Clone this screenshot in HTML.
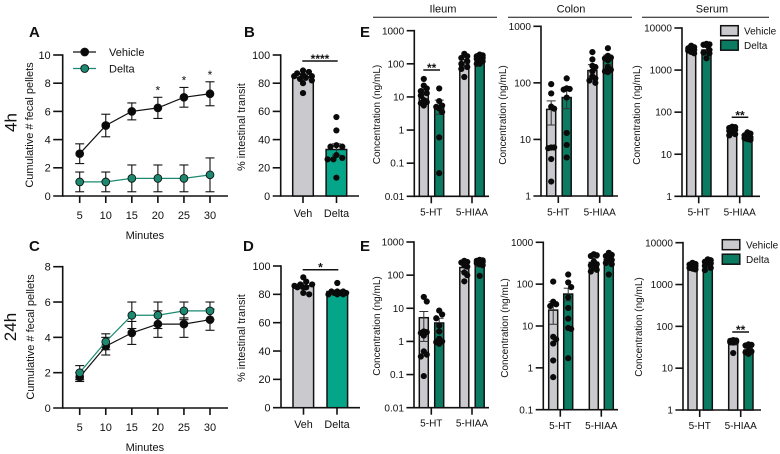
<!DOCTYPE html>
<html>
<head>
<meta charset="utf-8">
<title>Vehicle vs Delta figure</title>
<style>
html,body{margin:0;padding:0;background:#fff;}
svg{display:block;font-family:"Liberation Sans",Arial,sans-serif;fill:#111;}
</style>
</head>
<body>
<svg id="fig" width="780" height="454" viewBox="0 0 780 454" xmlns="http://www.w3.org/2000/svg">
<rect width="780" height="454" fill="#fff"/>
</svg>
<script>
/* ---------- line chart data ---------- */
const minuteCategories = [5, 10, 15, 20, 25, 30];
const panelAYTicks = [0, 2, 4, 6, 8, 10];
const panelCYTicks = [0, 2, 4, 6, 8];
const panelAVehicle = [3, 5, 6, 6.25, 7, 7.25];
const panelAVehicleLow = [2.3, 4.2, 5.4, 5.5, 6.3, 6.4];
const panelAVehicleHigh = [3.7, 5.8, 6.6, 7, 7.7, 8.1];
const panelADelta = [1, 1, 1.25, 1.25, 1.25, 1.5];
const panelADeltaLow = [0.3, 0.3, 0.3, 0.3, 0.3, 0.3];
const panelADeltaHigh = [1.7, 1.7, 2.2, 2.2, 2.2, 2.7];
const panelAStars = ['', '', '', '*', '*', '*'];
const panelCVehicle = [1.75, 3.5, 4.25, 4.75, 4.75, 5];
const panelCVehicleLow = [1.5, 3, 3.6, 4, 4, 4.4];
const panelCVehicleHigh = [2, 4, 4.9, 5.5, 5.1, 5.6];
const panelCDelta = [2, 3.75, 5.25, 5.25, 5.5, 5.5];
const panelCDeltaLow = [1.6, 3.3, 4.5, 4.5, 5, 5];
const panelCDeltaHigh = [2.4, 4.2, 6, 6, 6, 6];

/* ---------- transit data ---------- */
const transitCategories = ['Veh', 'Delta'];
const transitYTicks = [0, 20, 40, 60, 80, 100];
const panelBMeans = [84, 33];
const panelBLow = [82, 29];
const panelBHigh = [86, 37];
const panelBDots = [[89, 88, 87, 86, 85, 85, 84, 83, 82, 80, 73], [56, 46.5, 36, 35, 35, 29, 27, 26, 26, 13]];
const panelDMeans = [86, 82];
const panelDLow = [84, 81];
const panelDHigh = [88, 83];
const panelDDots = [[92, 89, 87, 87, 86, 85, 85, 85, 81, 80], [88, 82, 82, 82, 81, 81, 81, 80, 80, 80]];

/* ---------- concentration data: order Veh 5-HT, Delta 5-HT, Veh 5-HIAA, Delta 5-HIAA ---------- */
const analyteCategories = ['5-HT', '5-HIAA'];
const ileumYTicks = ['0.01', '0.1', '1', '10', '100', '1000'];
const colonTopYTicks = ['1', '10', '100', '1000'];
const colonBottomYTicks = ['0.1', '1', '10', '100', '1000'];
const serumYTicks = ['1', '10', '100', '1000', '10000'];

const ileumTopMeans = [13, 5.5, 110, 150];
const ileumTopLow = [9, 3, 85, 130];
const ileumTopHigh = [17, 8, 135, 170];
const ileumTopDots = [[35, 22, 18, 15, 13, 11, 8, 7, 6.5, 5.5], [18, 7.5, 5.5, 5, 4.5, 3.5, 0.6, 0.05], [200, 170, 150, 120, 100, 80, 70, 40], [190, 180, 170, 160, 150, 140, 130, 120, 100, 100]];

const colonTopMeans = [34, 55, 165, 260];
const colonTopLow = [18, 35, 130, 210];
const colonTopHigh = [48, 80, 210, 310];
const colonTopDots = [[95, 65, 38, 35, 7.2, 7.2, 7, 4.5, 1.8], [120, 80, 78, 76, 55, 13, 8, 4.8], [350, 260, 200, 190, 160, 130, 120, 110, 100], [410, 300, 280, 270, 250, 190, 170, 160, 155]];

const serumTopMeans = [3000, 3000, 37, 25];
const serumTopLow = [2800, 2600, 34, 23];
const serumTopHigh = [3300, 3500, 40, 27];
const serumTopDots = [[3800, 3500, 3300, 3200, 3000, 2900, 2700, 2500], [4200, 4100, 4000, 3900, 3000, 2600, 2500, 1900], [45, 44, 42, 40, 38, 36, 33, 30, 28], [33, 31, 28, 26, 25, 24, 23, 22]];

const ileumBottomMeans = [5.2, 3.6, 170, 220];
const ileumBottomLow = [1, 2, 130, 180];
const ileumBottomHigh = [8, 5, 210, 260];
const ileumBottomDots = [[22, 16, 2, 1.9, 1.8, 1.5, 0.5, 0.4, 0.35, 0.09], [8.5, 6.5, 5, 3, 2, 1.2, 1, 0.95, 0.85], [270, 250, 240, 200, 180, 120, 100, 65], [290, 280, 270, 260, 250, 230, 210, 200, 95]];

const colonBottomMeans = [24, 58, 330, 390];
const colonBottomLow = [11, 40, 260, 320];
const colonBottomHigh = [38, 80, 420, 470];
const colonBottomDots = [[115, 38, 33, 30, 5.5, 4.8, 3.8, 1.5, 0.6], [170, 110, 85, 48, 27, 15, 9, 8.5, 1.7], [520, 490, 470, 350, 300, 280, 250, 220, 200], [560, 500, 470, 400, 380, 320, 300, 170]];

const serumBottomMeans = [2700, 3200, 42, 27];
const serumBottomLow = [2500, 2800, 36, 24];
const serumBottomHigh = [2900, 3600, 46, 30];
const serumBottomDots = [[3300, 3100, 3000, 2800, 2700, 2500, 2400, 2300], [4000, 3800, 3500, 3300, 3200, 2800, 2500, 2200], [47, 46, 45, 44, 43, 42, 41, 23], [37, 36, 35, 34, 26, 25, 24, 22]];

/* ---------- drawing ---------- */
const NS = 'http://www.w3.org/2000/svg';
const fig = document.getElementById('fig');
const INK = '#111';
const GRAY = '#c9c9ce';
const GREEN_LINE = '#1b8a70';
const GREEN_DARK = '#0b7c62';
const GREEN_BRIGHT = '#04a589';

function mk(tag, attrs, parent) {
  const el = document.createElementNS(NS, tag);
  for (const k in attrs) el.setAttribute(k, attrs[k]);
  (parent || fig).appendChild(el);
  return el;
}
function label(str, x, y, size, anchor, parent, rotate, weight) {
  const t = mk('text', {x: x, y: y, 'font-size': size, 'text-anchor': anchor || 'middle', 'font-weight': weight || 'normal'}, parent);
  if (rotate) t.setAttribute('transform', 'rotate(-90 ' + x + ' ' + y + ')');
  t.textContent = str;
  
  
  return t;
}
function seg(x1, y1, x2, y2, width, color, parent) {
  const l = mk('line', {x1: x1, y1: y1, x2: x2, y2: y2, stroke: color || INK, 'stroke-width': width || 1.6}, parent);
  
  
  return l;
}
function linearScale(min, max, y0, y1) {
  return v => y0 - (v - min) / (max - min) * (y0 - y1);
}
function logScale(min, max, y0, y1) {
  const a = Math.log10(min), b = Math.log10(max);
  return v => y0 - (Math.log10(v) - a) / (b - a) * (y0 - y1);
}
function yAxis(g, scale, ticks, axisX, top, bottom, right, tickLen, fs) {
  seg(axisX, top - 0.8, axisX, bottom + 0.8, 1.6, INK, g);
  seg(axisX - tickLen, bottom, right, bottom, 1.6, INK, g);
  ticks.forEach(t => {
    const y = scale(Number(t));
    if (y !== bottom) seg(axisX - tickLen, y, axisX, y, 1.6, INK, g);
    label(String(t), axisX - tickLen - 2.5, y + fs * 0.355, fs, 'end', g);
  });
}
function errorBar(g, x, lowY, highY, cap, color, width) {
  seg(x, lowY, x, highY, width, color, g);
  seg(x - cap, lowY, x + cap, lowY, width, color, g);
  seg(x - cap, highY, x + cap, highY, width, color, g);
}

function lineChart(cfg) {
  const g = mk('g', {});
  
  
  const y = linearScale(0, cfg.yMax, cfg.y0, cfg.y1);
  const x = v => cfg.x0 + (v - minuteCategories[0]) / (minuteCategories[5] - minuteCategories[0]) * (cfg.x1 - cfg.x0);
  yAxis(g, y, cfg.yTicks, cfg.axisX, cfg.y1, cfg.y0, cfg.right, 9.5, 11);
  minuteCategories.forEach(c => {
    seg(x(c), cfg.y0, x(c), cfg.y0 + 7, 1.6, INK, g);
    label(String(c), x(c), cfg.labelY, 11, 'middle', g);
  });
  label('Minutes', (cfg.x0 + cfg.x1) / 2, cfg.titleY, 11, 'middle', g);
  label('Cumulative # fecal pellets', cfg.yTitleX, cfg.yTitleY, 11, 'middle', g, true);
  cfg.series.forEach(s => {
    const pts = s.values.map((v, i) => x(minuteCategories[i]) + ',' + y(v)).join(' ');
    s.values.forEach((v, i) => errorBar(g, x(minuteCategories[i]), y(s.low[i]), y(s.high[i]), 4.5, INK, 1.1));
    const line = mk('polyline', {points: pts, fill: 'none', stroke: s.stroke, 'stroke-width': 1.2}, g);
    
    
    s.values.forEach((v, i) => {
      const c = mk('circle', {cx: x(minuteCategories[i]), cy: y(v), r: 3.9, fill: s.fill, stroke: '#111', 'stroke-width': 0.9}, g);
      
      
    });
  });
  if (cfg.stars) cfg.stars.forEach((s, i) => {
    if (s) label(s, x(minuteCategories[i]), y(cfg.series[0].high[i]) - 3, 12, 'middle', g);
  });
}

/* simple beeswarm: places each value at the nearest free horizontal offset */
function swarm(values, yFn, cx, maxOff, r) {
  const placed = [];
  values.slice().sort((a, b) => b - a).forEach(v => {
    const py = yFn(v);
    const step = r * 0.95;
    let best = 0, bestScore = -1;
    for (let i = 0; i * step <= maxOff * 2; i++) {
      const off = (i % 2 ? 1 : -1) * Math.ceil(i / 2) * step;
      if (Math.abs(off) > maxOff) continue;
      let near = Infinity;
      placed.forEach(p => { near = Math.min(near, Math.hypot(p.x - (cx + off), p.y - py)); });
      const ok = near >= r * 1.55;
      if (ok) { best = off; bestScore = Infinity; break; }
      if (near > bestScore) { bestScore = near; best = off; }
    }
    placed.push({x: cx + best, y: py});
  });
  return placed;
}

function barChart(cfg) {
  const g = mk('g', {});
  
  
  const y = cfg.scale;
  const fs = cfg.fontSize;
  yAxis(g, y, cfg.yTicks, cfg.axisX, cfg.y1, cfg.y0, cfg.right, cfg.tickLen, fs);
  label(cfg.yTitle, cfg.yTitleX, cfg.yTitleY, fs, 'middle', g, true);
  cfg.categories.forEach((c, i) => {
    const tx = cfg.tickX[i];
    seg(tx, cfg.y0, tx, cfg.y0 + 7, 1.6, INK, g);
    label(c, tx, cfg.labelY, fs, 'middle', g);
  });
  cfg.means.forEach((m, i) => {
    const left = cfg.barX(i);
    const top = y(m);
    const isFirst = i % 2 === 0;
    const bar = mk('rect', {x: left, y: top, width: cfg.barW, height: cfg.y0 - top, fill: isFirst ? GRAY : cfg.green, stroke: INK, 'stroke-width': 1.5}, g);
    
    
    const cx = left + cfg.barW / 2;
    errorBar(g, cx, y(cfg.low[i]), y(cfg.high[i]), Math.min(cfg.barW / 2, 4.5), '#333', 1);
    swarm(cfg.dots[i], y, cx, cfg.barW / 2 + 1, 3.1).forEach(p => {
      const d = mk('circle', {cx: p.x, cy: p.y, r: 3.1, fill: '#0a0a0a'}, g);
      
      
    });
  });
  if (cfg.sig) {
    seg(cfg.sig.x1, cfg.sig.y, cfg.sig.x2, cfg.sig.y, 1.5, INK, g);
    label(cfg.sig.text, (cfg.sig.x1 + cfg.sig.x2) / 2, cfg.sig.y + 2, 12, 'middle', g, false, 'bold');
  }
}

function groupedX(x0, inner, group) {
  return i => x0 + (i % 2) * inner + Math.floor(i / 2) * group;
}

/* panel letters and row labels */
[['A', 29, 37], ['B', 244, 37], ['E', 360, 37], ['C', 29, 251], ['D', 243, 251], ['E', 360, 251]].forEach(p => {
  label(p[0], p[1], p[2], 15, 'start', fig, false, 'bold');
});
label('4h', 16.5, 122.5, 17, 'middle', fig, true);
label('24h', 16, 327, 17, 'middle', fig, true);

/* section headers */
[['Ileum', 373, 497, 443], ['Colon', 508, 632, 571], ['Serum', 642, 769, 712]].forEach(h => {
  seg(h[1], 17.3, h[2], 17.3, 1, INK);
  label(h[0], h[3], 12.5, 11);
});

/* A */
lineChart({
  name: 'panel-a-chart', yMax: 10, y0: 196, y1: 55, x0: 79.7, x1: 210, axisX: 62.7, right: 228,
  yTicks: panelAYTicks, labelY: 219, titleY: 239, yTitleX: 33, yTitleY: 125, stars: panelAStars,
  series: [
    {name: 'vehicle', values: panelAVehicle, low: panelAVehicleLow, high: panelAVehicleHigh, stroke: '#111', fill: '#0a0a0a'},
    {name: 'delta', values: panelADelta, low: panelADeltaLow, high: panelADeltaHigh, stroke: GREEN_LINE, fill: GREEN_LINE}
  ]
});
/* A legend */
[['Vehicle', 52, '#111', '#0a0a0a'], ['Delta', 68.5, GREEN_LINE, GREEN_LINE]].forEach(e => {
  const lg = mk('g', {});
  
  
  seg(73, e[1], 96, e[1], 1.2, e[2], lg);
  const m = mk('circle', {cx: 84.7, cy: e[1], r: 3.9, fill: e[3], stroke: '#111', 'stroke-width': 0.9}, lg);
  
  
  label(e[0], 109, e[1] + 3.9, 11, 'start', lg);
});

/* C */
lineChart({
  name: 'panel-c-chart', yMax: 8, y0: 408, y1: 266.7, x0: 79.7, x1: 210, axisX: 62.7, right: 228,
  yTicks: panelCYTicks, labelY: 431, titleY: 451, yTitleX: 34, yTitleY: 337,
  series: [
    {name: 'vehicle', values: panelCVehicle, low: panelCVehicleLow, high: panelCVehicleHigh, stroke: '#111', fill: '#0a0a0a'},
    {name: 'delta', values: panelCDelta, low: panelCDeltaLow, high: panelCDeltaHigh, stroke: GREEN_LINE, fill: GREEN_LINE}
  ]
});

/* B */
barChart({
  name: 'panel-b-chart', fontSize: 10.8, scale: linearScale(0, 100, 196, 55), y0: 196, y1: 55, axisX: 280.7, right: 359, tickLen: 8,
  yTicks: transitYTicks, yTitle: '% intestinal transit', yTitleX: 245, yTitleY: 127,
  categories: transitCategories, tickX: [303, 336.5], labelY: 217,
  means: panelBMeans, low: panelBLow, high: panelBHigh, dots: panelBDots,
  barX: groupedX(292.7, 33.4, 0), barW: 20.6, green: GREEN_BRIGHT,
  sig: {x1: 302.3, x2: 337.7, y: 61, text: '****'}
});
/* D */
barChart({
  name: 'panel-d-chart', fontSize: 10.8, scale: linearScale(0, 100, 407.7, 266), y0: 407.7, y1: 266, axisX: 281, right: 360, tickLen: 8,
  yTicks: transitYTicks, yTitle: '% intestinal transit', yTitleX: 245, yTitleY: 338,
  categories: transitCategories, tickX: [303.5, 337], labelY: 428,
  means: panelDMeans, low: panelDLow, high: panelDHigh, dots: panelDDots,
  barX: groupedX(293, 34, 0), barW: 20.6, green: GREEN_BRIGHT,
  sig: {x1: 302.7, x2: 338.3, y: 269.7, text: '*'}
});

/* E rows */
const concTitle = 'Concentration (ng/mL)';
barChart({
  name: 'ileum-4h-chart', fontSize: 10, scale: logScale(0.01, 1000, 196.3, 30.7), y0: 196.3, y1: 30.7, axisX: 414.3, right: 489, tickLen: 7.6,
  yTicks: ileumYTicks, yTitle: concTitle, yTitleX: 380, yTitleY: 114.5,
  categories: analyteCategories, tickX: [431.3, 472], labelY: 215.5,
  means: ileumTopMeans, low: ileumTopLow, high: ileumTopHigh, dots: ileumTopDots,
  barX: groupedX(419.3, 15.4, 40.5), barW: 9, green: GREEN_DARK,
  sig: {x1: 423.3, x2: 440, y: 70, text: '**'}
});
barChart({
  name: 'colon-4h-chart', fontSize: 10, scale: logScale(1, 1000, 196, 26.3), y0: 196, y1: 26.3, axisX: 541, right: 618, tickLen: 7.6,
  yTicks: colonTopYTicks, yTitle: concTitle, yTitleX: 506, yTitleY: 115,
  categories: analyteCategories, tickX: [558.3, 599.7], labelY: 215.5,
  means: colonTopMeans, low: colonTopLow, high: colonTopHigh, dots: colonTopDots,
  barX: groupedX(546.7, 15.5, 41.2), barW: 9, green: GREEN_DARK
});
barChart({
  name: 'serum-4h-chart', fontSize: 10, scale: logScale(1, 10000, 196.3, 28), y0: 196.3, y1: 28, axisX: 682, right: 760, tickLen: 7.6,
  yTicks: serumYTicks, yTitle: concTitle, yTitleX: 640, yTitleY: 115,
  categories: analyteCategories, tickX: [698.7, 739.7], labelY: 215.5,
  means: serumTopMeans, low: serumTopLow, high: serumTopHigh, dots: serumTopDots,
  barX: groupedX(686.7, 15.3, 41), barW: 9, green: GREEN_DARK,
  sig: {x1: 731.7, x2: 748.3, y: 117.3, text: '**'}
});
barChart({
  name: 'ileum-24h-chart', fontSize: 10, scale: logScale(0.01, 1000, 407.7, 242), y0: 407.7, y1: 242, axisX: 414, right: 489, tickLen: 7.6,
  yTicks: ileumYTicks, yTitle: concTitle, yTitleX: 380, yTitleY: 326,
  categories: analyteCategories, tickX: [431.3, 472], labelY: 426.5,
  means: ileumBottomMeans, low: ileumBottomLow, high: ileumBottomHigh, dots: ileumBottomDots,
  barX: groupedX(419.3, 15.4, 40.5), barW: 9, green: GREEN_DARK
});
barChart({
  name: 'colon-24h-chart', fontSize: 10, scale: logScale(0.1, 1000, 409.7, 242.3), y0: 409.7, y1: 242.3, axisX: 543.3, right: 618, tickLen: 7.6,
  yTicks: colonBottomYTicks, yTitle: concTitle, yTitleX: 508, yTitleY: 328,
  categories: analyteCategories, tickX: [560.3, 601.3], labelY: 429,
  means: colonBottomMeans, low: colonBottomLow, high: colonBottomHigh, dots: colonBottomDots,
  barX: groupedX(548.7, 15, 40.6), barW: 9, green: GREEN_DARK
});
barChart({
  name: 'serum-24h-chart', fontSize: 10, scale: logScale(1, 10000, 410, 242.7), y0: 410, y1: 242.7, axisX: 683, right: 761, tickLen: 7.6,
  yTicks: serumYTicks, yTitle: concTitle, yTitleX: 642, yTitleY: 327,
  categories: analyteCategories, tickX: [699.7, 740.7], labelY: 429,
  means: serumBottomMeans, low: serumBottomLow, high: serumBottomHigh, dots: serumBottomDots,
  barX: groupedX(688, 15.3, 40.7), barW: 9, green: GREEN_DARK,
  sig: {x1: 732.3, x2: 749, y: 332, text: '**'}
});

/* E legends */
[[720.7, 25.7, 744, 34.3], [722.3, 239.7, 746, 248.6]].forEach(p => {
  [['Vehicle', GRAY, 0], ['Delta', GREEN_DARK, 14.5]].forEach(e => {
    const lg = mk('g', {});
    
    
    const sw = mk('rect', {x: p[0], y: p[1] + e[2], width: 17.5, height: 10, fill: e[1], stroke: INK, 'stroke-width': 1.5}, lg);
    
    
    label(e[0], p[2], p[3] + e[2], 10, 'start', lg);
  });
});
</script>
</body>
</html>
